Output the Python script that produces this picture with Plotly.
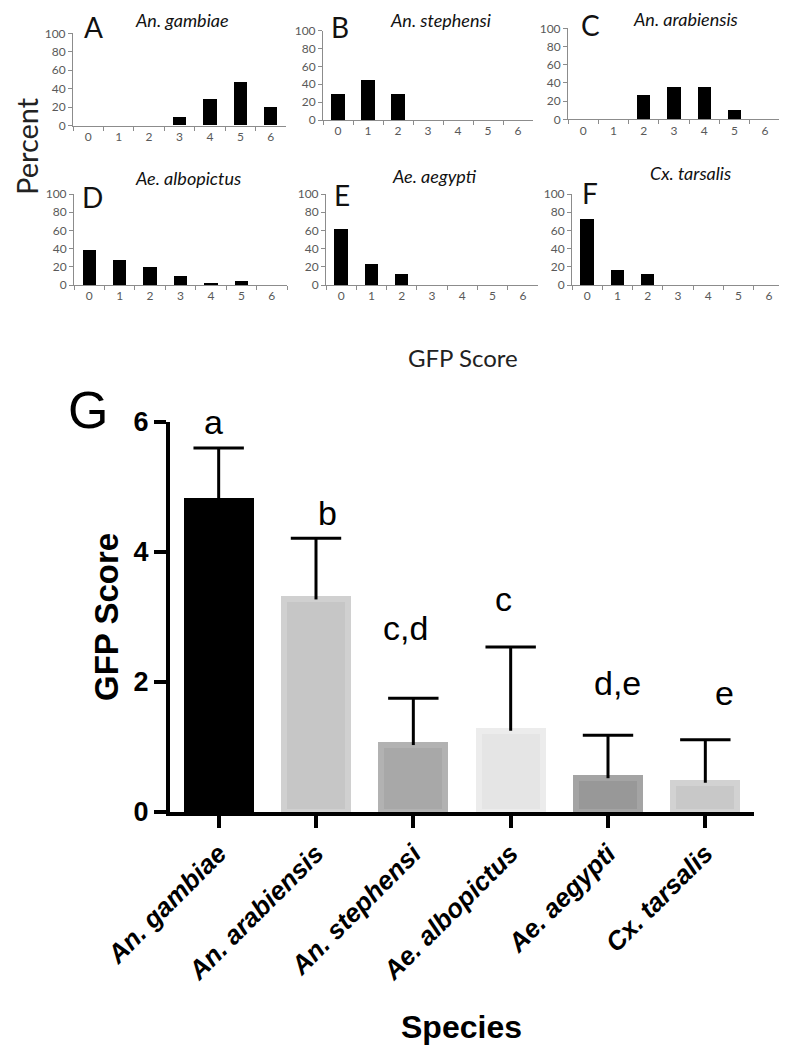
import plotly.graph_objects as go

# ---------------- data ----------------
scores = ["0", "1", "2", "3", "4", "5", "6"]
pct_gambiae = [0, 0, 0, 9, 29, 47, 20]
pct_stephensi = [30, 45, 30, 0, 0, 0, 0]
pct_arabiensis = [0, 0, 26, 35, 35, 10, 0]
pct_albopictus = [39, 28, 20, 10, 2.5, 4.5, 0]
pct_aegypti = [62, 23, 12.5, 0, 0, 0, 0]
pct_tarsalis = [72, 17, 12.5, 0, 0, 0, 0]

panel_letters = ["A", "B", "C", "D", "E", "F"]
panel_titles = ["An. gambiae", "An. stephensi", "An. arabiensis",
                "Ae. albopictus", "Ae. aegypti", "Cx. tarsalis"]
panel_values = [pct_gambiae, pct_stephensi, pct_arabiensis,
                pct_albopictus, pct_aegypti, pct_tarsalis]
pct_ticks = [0, 20, 40, 60, 80, 100]

species = ["An. gambiae", "An. arabiensis", "An. stephensi",
           "Ae. albopictus", "Ae. aegypti", "Cx. tarsalis"]
mean_score = [4.78, 3.27, 1.03, 1.25, 0.52, 0.45]
sd_score = [0.82, 0.94, 0.72, 1.29, 0.66, 0.66]
sig_letters = ["a", "b", "c,d", "c", "d,e", "e"]
score_ticks = [0, 2, 4, 6]

# ---------------- styles / layout ----------------
W, H = 787, 1049
OFF = 8  # page body margin
def px_x(v): return (v - OFF) / W
def px_y(v): return 1 - (v - OFF) / H

bar_fill = ["#000000", "#c6c6c6", "#a8a8a8", "#e5e5e5", "#989898", "#c8c8c8"]
bar_edge = ["#000000", "#d0d0d0", "#b2b2b2", "#ececec", "#a4a4a4", "#d2d2d2"]
letter_dx = [-0.05, 0.12, -0.08, -0.07, 0.10, 0.20]
letter_y = [6.0, 4.6, 2.83, 3.28, 1.98, 1.83]

# panel boxes in pixels: (left, right, top, bottom)
boxes = [(73, 286, 33.3, 125.7), (323, 533, 30.7, 120), (568, 780, 28.3, 119.3),
         (74, 287, 194, 285), (326, 538, 194, 285), (572, 784, 194, 285)]
letter_pos = [(93, 27), (340, 27), (590, 25), (92, 197), (342, 195), (590, 193)]
title_pos = [(182, 20), (440, 19.5), (685, 19), (188, 178), (435, 176), (690, 173)]

small_font = "Lato, 'Open Sans', sans-serif"
grey_axis = "#8c8c8c"
grey_text = "#595959"

fig = go.Figure()
annotations = []

for i, vals in enumerate(panel_values):
    n = i + 1
    xa = "x" if n == 1 else f"x{n}"
    ya = "y" if n == 1 else f"y{n}"
    fig.add_trace(go.Bar(x=scores, y=vals, xaxis=xa, yaxis=ya,
                         width=0.44, marker=dict(color="#000000", line=dict(width=0)),
                         showlegend=False))
    l, r, t, b = boxes[i]
    key = "" if n == 1 else str(n)
    fig.update_layout(**{
        f"xaxis{key}": dict(domain=[px_x(l), px_x(r)], anchor=ya, type="category",
                            range=[-0.5, 6.5], tickson="boundaries", ticks="outside",
                            ticklen=4, tickcolor=grey_axis, showline=True, linecolor=grey_axis,
                            linewidth=1, showgrid=False, zeroline=False, automargin=False,
                            tickfont=dict(family=small_font, size=12, color=grey_text)),
        f"yaxis{key}": dict(domain=[px_y(b), px_y(t)], anchor=xa, range=[0, 100],
                            tickvals=pct_ticks, ticks="outside", ticklen=4,
                            tickcolor=grey_axis, showline=True, linecolor=grey_axis,
                            linewidth=1, showgrid=False, zeroline=False, automargin=False,
                            tickfont=dict(family=small_font, size=12, color=grey_text)),
    })
    lx, ly = letter_pos[i]
    annotations.append(dict(text=panel_letters[i], x=px_x(lx), y=px_y(ly), xref="paper",
                            yref="paper", showarrow=False, xanchor="center", yanchor="middle",
                            font=dict(family=small_font, size=28, color="#111111")))
    tx, ty = title_pos[i]
    annotations.append(dict(text=panel_titles[i], x=px_x(tx), y=px_y(ty), xref="paper",
                            yref="paper", showarrow=False, xanchor="center", yanchor="middle",
                            font=dict(family=small_font, size=18, color="#111111",
                                      style="italic")))

annotations.append(dict(text="Percent", x=px_x(27), y=px_y(146), xref="paper", yref="paper",
                        showarrow=False, textangle=-90, xanchor="center", yanchor="middle",
                        font=dict(family=small_font, size=29, color="#222222")))
annotations.append(dict(text="GFP Score", x=px_x(463), y=px_y(357), xref="paper",
                        yref="paper", showarrow=False, xanchor="center", yanchor="middle",
                        font=dict(family=small_font, size=24, color="#222222")))

# ---------------- panel G ----------------
g_font = "'Liberation Sans', Arial, sans-serif"
fig.add_trace(go.Bar(x=species, y=mean_score, xaxis="x7", yaxis="y7", width=0.66,
                     marker=dict(color=bar_fill, line=dict(color=bar_edge, width=6)),
                     error_y=dict(type="data", symmetric=False, array=sd_score,
                                  arrayminus=[0] * len(sd_score), width=0, thickness=3,
                                  color="#000000"),
                     showlegend=False))
fig.add_trace(go.Scatter(x=species, y=[m + s for m, s in zip(mean_score, sd_score)],
                         xaxis="x7", yaxis="y7", mode="markers", showlegend=False,
                         marker=dict(symbol="line-ew", size=36,
                                     line=dict(color="#000000", width=3))))

fig.update_layout(
    xaxis7=dict(domain=[px_x(170), px_x(754)], anchor="y7", type="category",
                range=[-0.5, 5.5], showline=True, linecolor="#000000", linewidth=4,
                ticks="outside", ticklen=12, tickwidth=4, tickcolor="#000000",
                tickangle=-45, showgrid=False, zeroline=False, automargin=False,
                tickfont=dict(family=g_font, size=26, color="#000000", weight="bold",
                              style="italic")),
    yaxis7=dict(domain=[px_y(812), px_y(422)], anchor="x7", range=[0, 6],
                tickvals=score_ticks, showline=True, linecolor="#000000", linewidth=4,
                ticks="outside", ticklen=12, tickwidth=4, tickcolor="#000000",
                showgrid=False, zeroline=False, automargin=False,
                tickfont=dict(family=g_font, size=27, color="#000000", weight="bold")),
)

for i, lab in enumerate(sig_letters):
    annotations.append(dict(text=lab, x=i + letter_dx[i], y=letter_y[i], xref="x7",
                            yref="y7", showarrow=False, xanchor="center", yanchor="middle",
                            font=dict(family=g_font, size=34, color="#000000")))

annotations.append(dict(text="G", x=px_x(88), y=px_y(410), xref="paper", yref="paper",
                        showarrow=False, xanchor="center", yanchor="middle",
                        font=dict(family=g_font, size=52, color="#000000")))
annotations.append(dict(text="GFP Score", x=px_x(106), y=px_y(617), xref="paper",
                        yref="paper", showarrow=False, textangle=-90, xanchor="center",
                        yanchor="middle",
                        font=dict(family=g_font, size=33, color="#000000", weight="bold")))
annotations.append(dict(text="Species", x=px_x(461), y=px_y(1027), xref="paper",
                        yref="paper", showarrow=False, xanchor="center", yanchor="middle",
                        font=dict(family=g_font, size=32, color="#000000", weight="bold")))

fig.update_layout(width=W, height=H, margin=dict(l=0, r=0, t=0, b=0, autoexpand=False),
                  paper_bgcolor="#ffffff", plot_bgcolor="#ffffff", bargap=0,
                  annotations=annotations)

fig.write_html("out.html")
